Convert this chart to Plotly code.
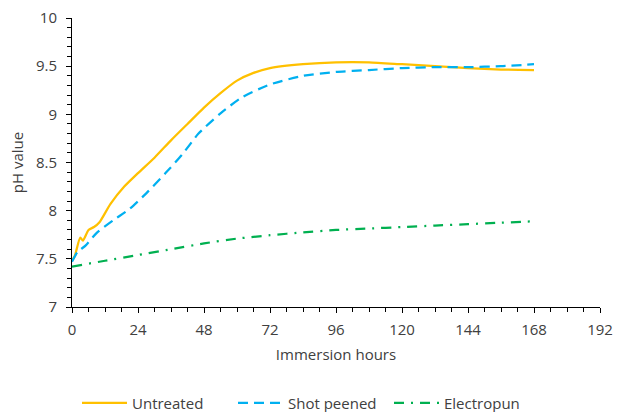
import plotly.graph_objects as go

# Untreated
hours_untreated = [0, 1, 3, 4, 6, 8, 10, 14, 19, 24, 30, 36, 42, 48, 54, 60, 66, 72,
                   84, 96, 108, 120, 132, 144, 156, 168]
ph_untreated = [7.48, 7.53, 7.72, 7.69, 7.80, 7.83, 7.88, 8.07, 8.25, 8.39, 8.55, 8.73,
                8.90, 9.07, 9.22, 9.35, 9.43, 9.48, 9.52, 9.54, 9.54, 9.52, 9.50,
                9.48, 9.465, 9.46]

# Shot peened
hours_shot = [0, 2, 5, 9, 15, 21, 27, 34, 40, 46, 54, 62, 72, 84, 96, 108, 120, 132,
              144, 156, 168]
ph_shot = [7.47, 7.57, 7.64, 7.77, 7.90, 8.02, 8.18, 8.39, 8.58, 8.80, 9.01, 9.18,
           9.31, 9.40, 9.44, 9.46, 9.48, 9.49, 9.49, 9.50, 9.52]

# Electropun
hours_electro = [0, 12, 24, 36, 48, 60, 72, 84, 96, 108, 120, 132, 144, 156, 168]
ph_electro = [7.42, 7.48, 7.54, 7.60, 7.66, 7.71, 7.745, 7.775, 7.80, 7.815, 7.83,
              7.845, 7.86, 7.875, 7.89]

x_ticks = [0, 24, 48, 72, 96, 120, 144, 168, 192]
y_ticks = [7, 7.5, 8, 8.5, 9, 9.5, 10]

FONT = "Open Sans"
TXT = "#404040"
FS = 15

fig = go.Figure()
fig.add_trace(go.Scatter(x=hours_untreated, y=ph_untreated, mode="lines", name="Untreated",
                         line=dict(color="#FFC000", width=2.25, shape="spline", smoothing=0.6)))
fig.add_trace(go.Scatter(x=hours_shot, y=ph_shot, mode="lines", name="Shot peened",
                         line=dict(color="#00B0F0", width=2.25, dash="10px,6px", shape="spline", smoothing=0.6)))
fig.add_trace(go.Scatter(x=hours_electro, y=ph_electro, mode="lines", name="Electropun",
                         line=dict(color="#00B050", width=2.25, dash="10px,7px,2px,7px", shape="spline", smoothing=0.6)))

fig.update_layout(
    width=622, height=412,
    margin=dict(l=72, r=22, t=18, b=105, autoexpand=False),
    paper_bgcolor="white", plot_bgcolor="white",
    font=dict(family=FONT, size=FS, color=TXT),
    showlegend=True,
    legend=dict(orientation="h", x=0.5, xanchor="center", xref="container",
                y=1 - 403 / 412, yanchor="middle", yref="container",
                entrywidth=96, entrywidthmode="pixels",
                font=dict(family=FONT, size=FS, color=TXT), itemwidth=45, traceorder="normal"),
)
fig.update_xaxes(
    range=[0, 192], tickvals=x_ticks, ticktext=[str(v) for v in x_ticks],
    showline=True, linecolor="black", linewidth=1, showgrid=False, zeroline=False,
    ticks="outside", ticklen=5, tickcolor="black", automargin=False, ticklabelstandoff=4,
    minor=dict(dtick=6, tick0=0, ticks="outside", ticklen=4, tickcolor="black", showgrid=False),
    title=dict(text="Immersion hours", font=dict(family=FONT, size=FS, color=TXT), standoff=11),
    tickfont=dict(family=FONT, size=FS, color=TXT),
)
fig.update_yaxes(
    range=[7, 10], tickvals=y_ticks, ticktext=["7", "7.5", "8", "8.5", "9", "9.5", "10"],
    showline=True, linecolor="black", linewidth=1, showgrid=False, zeroline=False,
    ticks="outside", ticklen=5, tickcolor="black", automargin=False, ticklabelstandoff=6,
    minor=dict(dtick=0.1, tick0=7, ticks="outside", ticklen=4, tickcolor="black", showgrid=False),
    title=dict(text="pH value", font=dict(family=FONT, size=FS, color=TXT), standoff=8),
    tickfont=dict(family=FONT, size=FS, color=TXT),
)

fig.write_html("out.html")
